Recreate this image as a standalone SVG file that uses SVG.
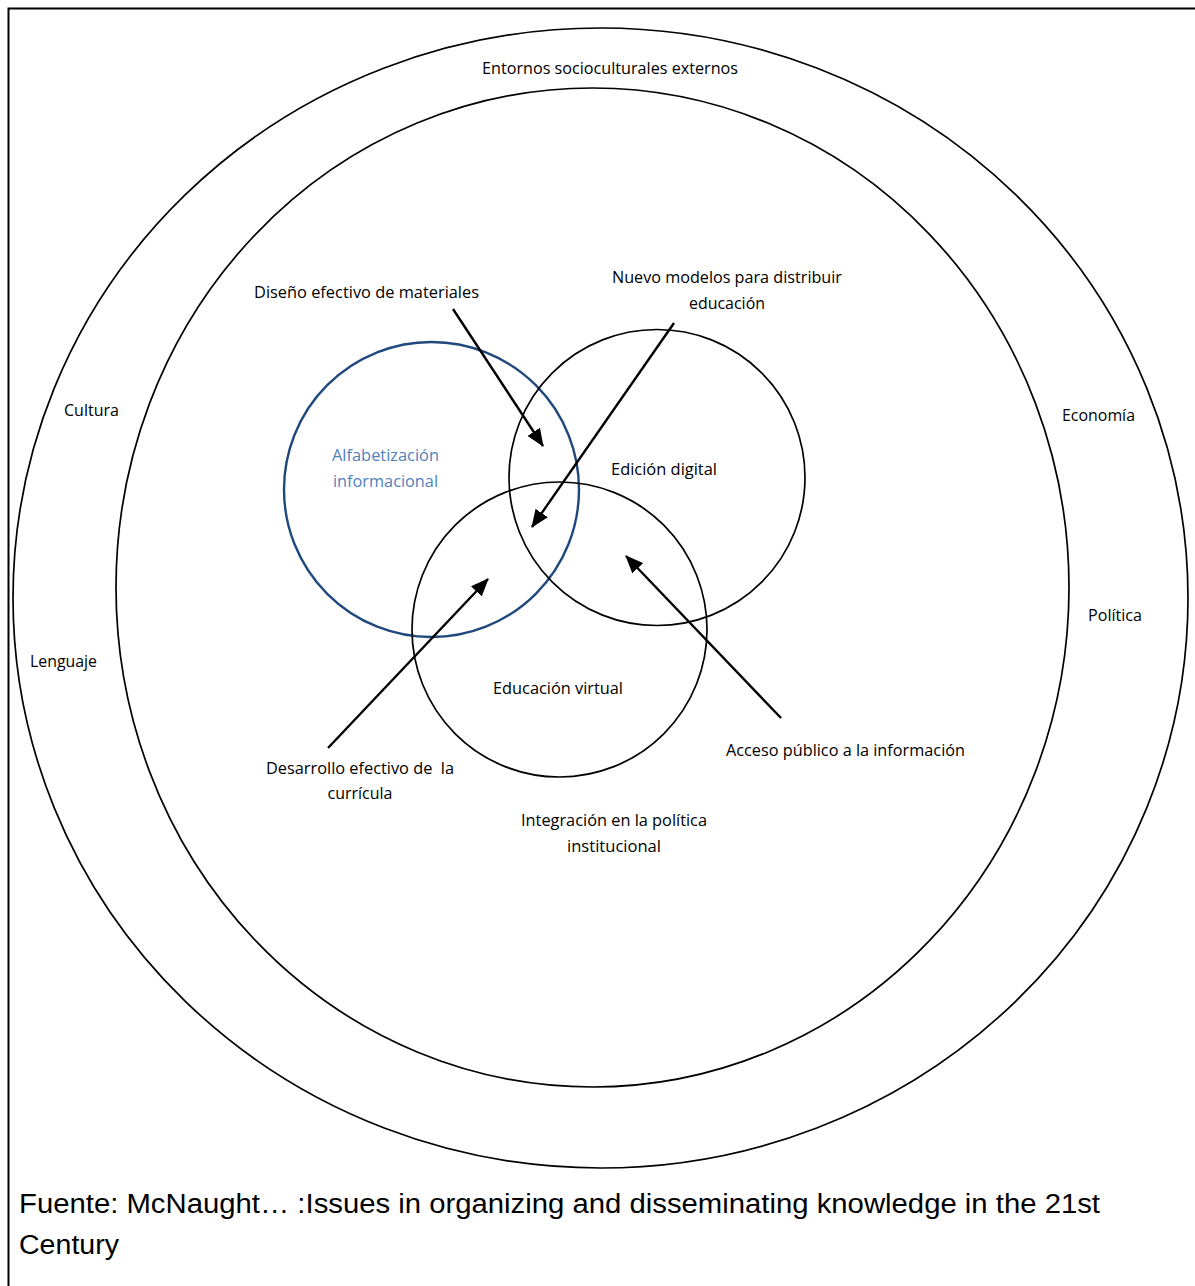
<svg xmlns="http://www.w3.org/2000/svg" width="1195" height="1286" viewBox="0 0 1195 1286">
<style>
.c{fill:none;stroke:#000;stroke-width:1.7}
.t{font-family:"Open Sans","Noto Sans",sans-serif;font-size:15.5px;fill:#000;text-anchor:middle}
.b{fill:#4F81BD}
.a{stroke:#000;stroke-width:2.4;fill:none}
.f{font-family:"Liberation Sans",Arial,sans-serif;font-size:27px;fill:#000}
</style>
<defs>
<marker id="ah2" viewBox="0 0 18 15" refX="17" refY="7.5" markerWidth="18" markerHeight="15" orient="auto" markerUnits="userSpaceOnUse">
<path d="M0,0 L18,7.5 L0,15 z" fill="#000"/>
</marker>
</defs>
<path d="M8.5,1286 V8.5 H1195" fill="none" stroke="#000" stroke-width="2"/>
<g id="outer"><ellipse class="c" cx="600.5" cy="598" rx="587.5" ry="570"/>
<text class="t" x="610" y="74" textLength="256" lengthAdjust="spacingAndGlyphs">Entornos socioculturales externos</text>
<text class="t" x="91.5" y="416" textLength="55" lengthAdjust="spacingAndGlyphs">Cultura</text>
<text class="t" x="1098.5" y="421" textLength="73" lengthAdjust="spacingAndGlyphs">Economía</text>
<text class="t" x="1115" y="621" textLength="54" lengthAdjust="spacingAndGlyphs">Política</text>
<text class="t" x="63.5" y="667" textLength="67" lengthAdjust="spacingAndGlyphs">Lenguaje</text>
</g>
<g id="inner"><ellipse class="c" cx="592.5" cy="587.5" rx="476.5" ry="499.5"/>
<text class="t" x="614" y="826" textLength="186" lengthAdjust="spacingAndGlyphs">Integración en la política</text>
<text class="t" x="614" y="852" textLength="94" lengthAdjust="spacingAndGlyphs">institucional</text>
</g>
<g id="alfabetizacion"><circle cx="431.5" cy="489.5" r="147.5" fill="none" stroke="#1F497D" stroke-width="2.4"/>
<text class="t b" x="385.5" y="461" textLength="107" lengthAdjust="spacingAndGlyphs">Alfabetización</text>
<text class="t b" x="385.5" y="487" textLength="105" lengthAdjust="spacingAndGlyphs">informacional</text>
</g>
<g id="edicion"><circle class="c" cx="657" cy="477.5" r="148"/>
<text class="t" x="664" y="475" textLength="106" lengthAdjust="spacingAndGlyphs">Edición digital</text>
</g>
<g id="educacion"><circle class="c" cx="559.5" cy="629.5" r="147.5"/>
<text class="t" x="558" y="694" textLength="130" lengthAdjust="spacingAndGlyphs">Educación virtual</text>
</g>
<g id="labels">
<text class="t" x="366.5" y="298" textLength="225" lengthAdjust="spacingAndGlyphs">Diseño efectivo de materiales</text>
<text class="t" x="727" y="283" textLength="230" lengthAdjust="spacingAndGlyphs">Nuevo modelos para distribuir</text>
<text class="t" x="727" y="309" textLength="76" lengthAdjust="spacingAndGlyphs">educación</text>
<text class="t" x="845.5" y="756" textLength="239" lengthAdjust="spacingAndGlyphs">Acceso público a la información</text>
<text class="t" x="360" y="774" textLength="188" lengthAdjust="spacingAndGlyphs" xml:space="preserve">Desarrollo efectivo de  la</text>
<text class="t" x="360" y="799" textLength="65" lengthAdjust="spacingAndGlyphs">currícula</text>
</g>
<g id="connectors">
<line class="a" x1="453" y1="309" x2="543" y2="446" marker-end="url(#ah2)"/>
<line class="a" x1="674" y1="323" x2="532" y2="527" marker-end="url(#ah2)"/>
<line class="a" x1="328" y1="748" x2="488" y2="579" marker-end="url(#ah2)"/>
<line class="a" x1="781" y1="718" x2="626" y2="556" marker-end="url(#ah2)"/>
</g>
<g id="footer">
<text class="f" x="19" y="1213" textLength="1081" lengthAdjust="spacingAndGlyphs">Fuente: McNaught… :Issues in organizing and disseminating knowledge in the 21st</text>
<text class="f" x="19" y="1254" textLength="100" lengthAdjust="spacingAndGlyphs">Century</text>
</g>
</svg>
